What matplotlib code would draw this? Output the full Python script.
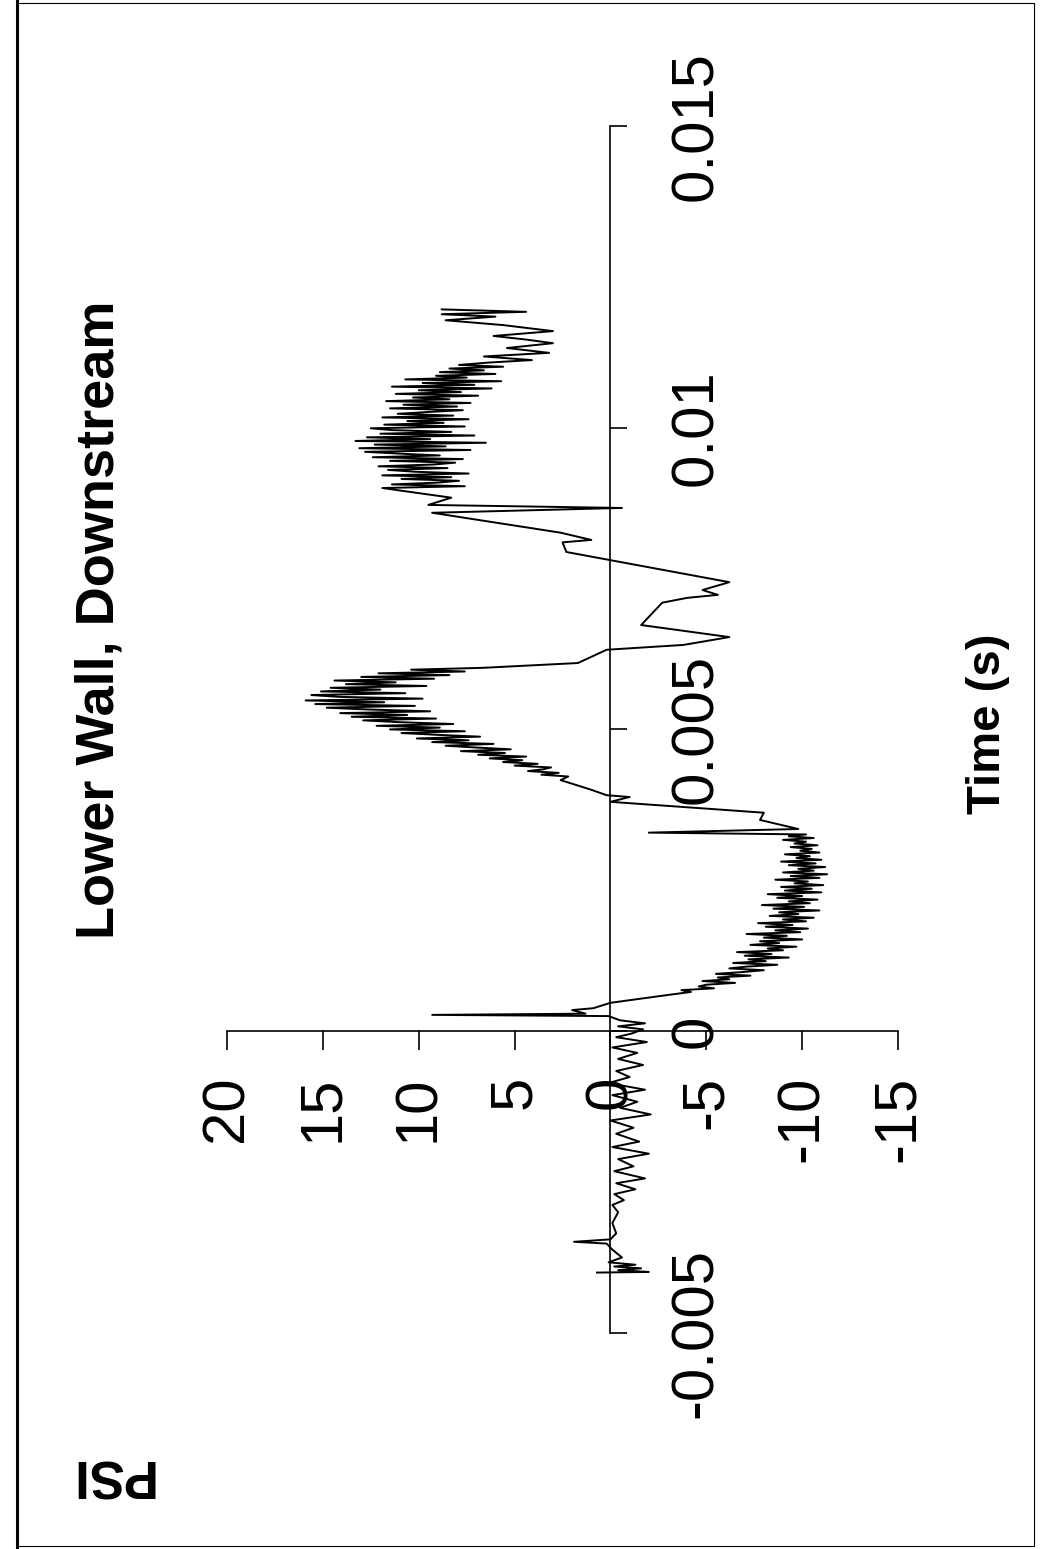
import matplotlib
matplotlib.use("Agg")
from matplotlib import pyplot as plt
from matplotlib import font_manager
from matplotlib.lines import Line2D
from matplotlib.patches import Rectangle

# pressure trace (time in s, pressure in PSI)
t_pre = [-0.00400, -0.00399, -0.00396, -0.00393, -0.00390, -0.00387, -0.00383, -0.00375, -0.00362, -0.00352,
         -0.00349, -0.00345, -0.00335, -0.00318, -0.00300, -0.00288, -0.00280, -0.00270, -0.00262, -0.00252,
         -0.00244, -0.00232, -0.00224, -0.00212, -0.00203, -0.00192, -0.00183, -0.00170, -0.00160, -0.00148,
         -0.00138, -0.00127, -0.00117, -0.00106, -0.00097, -0.00086, -0.00076, -0.00066, -0.00056, -0.00046,
         -0.00036, -0.00027, -0.00018, -0.00010, -0.00004, 0.00003, 0.00008, 0.00013, 0.00018, 0.00025]
p_pre = [0.7, -2.0, -0.4, -1.6, -0.2, -1.3, 0.1, -0.6, -0.1, 0.2,
         1.9, 0.0, -0.3, -0.1, -0.4, -0.1, -0.7, -0.2, -1.3, -0.3,
         -1.8, -0.2, -1.2, -0.4, -2.0, -0.1, -1.5, -0.3, -1.2, 0.0,
         -2.1, -0.5, -1.4, -0.1, -1.8, 0.1, -1.0, -0.3, -1.7, -0.4,
         -1.4, -0.1, -1.9, -0.3, -1.1, -1.7, -0.4, -1.8, -0.5, 0.1]

t_spike = [0.00027, 0.00029, 0.00035, 0.00038, 0.00047, 0.00060]
p_spike = [9.3, 1.3, 2.0, 0.9, 0.0, -3.0]

t_neg = [0.00065, 0.00068, 0.00071, 0.00074, 0.00077, 0.00080, 0.00083, 0.00086, 0.00089, 0.00092,
         0.00095, 0.00098, 0.00101, 0.00104, 0.00107, 0.00110, 0.00113, 0.00116, 0.00119, 0.00122,
         0.00125, 0.00128, 0.00131, 0.00134, 0.00137, 0.00140, 0.00143, 0.00146, 0.00149, 0.00152,
         0.00155, 0.00158, 0.00161, 0.00164, 0.00167, 0.00170, 0.00173, 0.00176, 0.00179, 0.00182,
         0.00185, 0.00188, 0.00191, 0.00194, 0.00197, 0.00200, 0.00203, 0.00206, 0.00209, 0.00212,
         0.00215, 0.00218, 0.00221, 0.00224, 0.00227, 0.00230, 0.00233, 0.00236, 0.00239, 0.00242,
         0.00245, 0.00248, 0.00251, 0.00254, 0.00257, 0.00260, 0.00263, 0.00266, 0.00269, 0.00272,
         0.00275, 0.00278, 0.00281, 0.00284, 0.00287, 0.00290, 0.00293, 0.00296, 0.00299, 0.00302,
         0.00305, 0.00308, 0.00311, 0.00314, 0.00317, 0.00320, 0.00323, 0.00326, 0.00329, 0.00335,
         0.00350, 0.00362, 0.00380, 0.00388, 0.00391]
p_neg = [-4.2, -3.7, -5.4, -4.6, -5.0, -6.5, -4.8, -6.2, -5.6, -7.3,
         -5.5, -6.9, -8.0, -6.2, -7.1, -8.7, -6.4, -8.1, -7.2, -9.3,
         -7.0, -8.4, -6.6, -9.0, -8.2, -9.7, -7.3, -8.8, -7.8, -10.0,
         -8.0, -9.2, -7.1, -9.9, -8.6, -10.3, -8.1, -9.5, -7.7, -10.2,
         -9.0, -10.6, -8.3, -9.8, -8.8, -10.9, -8.5, -10.1, -7.9, -10.4,
         -9.3, -10.8, -8.7, -10.0, -8.2, -11.0, -9.1, -10.5, -8.9, -11.1,
         -9.6, -10.3, -8.6, -10.9, -9.4, -11.3, -9.0, -10.6, -9.8, -11.2,
         -9.3, -10.7, -8.9, -11.0, -9.7, -10.4, -9.1, -10.9, -9.9, -10.5,
         -9.4, -10.8, -9.6, -10.2, -9.0, -10.6, -9.3, -10.2, -2.0, -9.8,
         -7.8, -8.0, 0.0, -1.0, 0.2]

t_pos1 = [0.00400, 0.00416, 0.00422, 0.00425, 0.00428, 0.00431, 0.00434, 0.00437, 0.00440, 0.00443,
          0.00446, 0.00449, 0.00452, 0.00455, 0.00458, 0.00461, 0.00464, 0.00467, 0.00470, 0.00473,
          0.00476, 0.00479, 0.00482, 0.00485, 0.00488, 0.00491, 0.00494, 0.00497, 0.00500, 0.00503,
          0.00506, 0.00509, 0.00512, 0.00515, 0.00518, 0.00521, 0.00524, 0.00527, 0.00530, 0.00533,
          0.00536, 0.00539, 0.00542, 0.00545, 0.00548, 0.00551, 0.00554, 0.00557, 0.00560, 0.00563,
          0.00566, 0.00569, 0.00572, 0.00575, 0.00578, 0.00581, 0.00584, 0.00587, 0.00590, 0.00593,
          0.00596, 0.00599, 0.00602, 0.00610, 0.00632]
p_pos1 = [1.0, 2.6, 2.2, 3.6, 2.7, 4.3, 3.5, 3.1, 5.0, 3.8,
          5.6, 4.6, 6.3, 4.4, 6.9, 5.5, 7.8, 5.2, 7.0, 8.6,
          6.1, 9.3, 7.4, 10.1, 6.8, 9.0, 10.9, 7.6, 11.5, 8.9,
          12.2, 8.2, 11.0, 12.9, 9.1, 13.5, 10.6, 14.1, 9.4, 12.6,
          14.8, 10.2, 15.4, 11.8, 15.9, 9.8, 14.2, 15.6, 10.7, 15.1,
          12.0, 14.6, 9.6, 13.8, 11.2, 14.4, 9.2, 13.0, 8.4, 12.1,
          7.6, 10.4, 6.7, 1.7, 0.2]

t_mid = [0.00640, 0.00653, 0.00673, 0.00710, 0.00718, 0.00723, 0.00731, 0.00744, 0.00794, 0.00810,
         0.00814, 0.00826, 0.00859, 0.00867, 0.00872, 0.00884, 0.00900]
p_mid = [-3.8, -6.2, -1.6, -2.7, -4.0, -5.6, -4.8, -6.2, 2.3, 2.5,
         1.0, 2.6, 9.3, -0.6, 9.5, 8.3, 11.9]

t_pos2 = [0.00903, 0.00906, 0.00909, 0.00912, 0.00915, 0.00918, 0.00921, 0.00924, 0.00927, 0.00930,
          0.00933, 0.00936, 0.00939, 0.00942, 0.00945, 0.00948, 0.00951, 0.00954, 0.00957, 0.00960,
          0.00963, 0.00966, 0.00969, 0.00972, 0.00975, 0.00978, 0.00981, 0.00984, 0.00987, 0.00990,
          0.00993, 0.00996, 0.00999, 0.01002, 0.01005, 0.01008, 0.01011, 0.01014, 0.01017, 0.01020,
          0.01023, 0.01026, 0.01029, 0.01032, 0.01035, 0.01038, 0.01041, 0.01044, 0.01047, 0.01050,
          0.01053, 0.01056, 0.01059, 0.01062, 0.01065, 0.01068, 0.01071, 0.01074, 0.01077, 0.01080,
          0.01083, 0.01086, 0.01089, 0.01092, 0.01095, 0.01098, 0.01101, 0.01104, 0.01108, 0.01112,
          0.01118, 0.01124, 0.01132, 0.01140, 0.01146, 0.01152, 0.01160, 0.01170, 0.01178, 0.01184,
          0.01188, 0.01192, 0.01196]
p_pos2 = [7.6, 11.4, 9.0, 7.9, 10.9, 8.3, 11.9, 7.4, 10.2, 11.6,
          8.5, 12.1, 9.2, 8.1, 11.5, 7.7, 12.4, 8.9, 11.0, 12.8,
          7.3, 13.1, 8.6, 12.3, 6.5, 13.3, 9.4, 12.7, 7.1, 12.0,
          8.3, 11.4, 12.5, 7.6, 11.8, 8.7, 10.6, 7.4, 11.9, 8.2,
          11.1, 9.5, 7.7, 11.5, 8.0, 10.8, 7.3, 11.7, 8.4, 10.3,
          6.9, 11.2, 7.8, 10.0, 6.2, 11.4, 7.1, 9.8, 5.7, 10.7,
          7.5, 9.1, 6.0, 8.9, 6.6, 8.4, 5.6, 7.9, 6.3, 4.1,
          6.6, 3.2, 5.4, 3.0, 4.4, 6.1, 3.0, 5.6, 8.6, 6.0,
          8.8, 4.4, 8.8]

psi_ticks = [20, 15, 10, 5, 0, -5, -10, -15]
psi_labels = ['20', '15', '10', '5', '0', '-5', '-10', '-15']
time_ticks = [-0.005, 0, 0.005, 0.01, 0.015]
time_labels = ['-0.005', '0', '0.005', '0.01', '0.015']


def pick_title_font():
    # narrow bold face looks closest to the scanned title, fall back if missing
    for fam in ['Liberation Sans Narrow', 'Arial Narrow']:
        try:
            font_manager.findfont(font_manager.FontProperties(family=fam, weight='bold'),
                                  fallback_to_default=False)
            return fam, 46
        except Exception:
            pass
    return 'Liberation Sans', 39


def main():
    plt.rcParams['font.family'] = ['Liberation Sans', 'DejaVu Sans']
    plt.rcParams['axes.unicode_minus'] = False

    fig = plt.figure(figsize=(10.40, 15.49), dpi=100)
    # the page is turned on its side: PSI runs left-right (reversed), time runs upward
    ax = fig.add_axes([0.2183, 0.1395, 0.6452, 0.7792])

    time = t_pre + t_spike + t_neg + t_pos1 + t_mid + t_pos2
    psi = p_pre + p_spike + p_neg + p_pos1 + p_mid + p_pos2
    ax.plot(psi, time, color='black', linewidth=1.4)

    ax.set_xlim(20, -15)
    ax.set_ylim(-0.005, 0.015)

    ax.spines['top'].set_visible(False)
    ax.spines['left'].set_visible(False)
    ax.spines['bottom'].set_position(('data', 0))
    ax.spines['right'].set_position(('data', 0))
    ax.spines['bottom'].set_linewidth(1.2)
    ax.spines['right'].set_linewidth(1.2)
    ax.yaxis.set_ticks_position('right')
    ax.xaxis.set_ticks_position('bottom')

    ax.set_xticks(psi_ticks)
    ax.set_xticklabels(psi_labels, rotation=90)
    ax.set_yticks(time_ticks)
    ax.set_yticklabels(time_labels, rotation=90, va='center')
    ax.tick_params(axis='x', direction='out', length=14, width=1.2, pad=18, labelsize=43)
    ax.tick_params(axis='y', direction='out', length=12, width=1.2, pad=30, labelsize=43)
    ax.patch.set_alpha(0)

    title_family, title_size = pick_title_font()
    fig.text(0.096, 0.600, 'Lower Wall, Downstream', rotation=90, ha='center', va='center',
             fontsize=title_size, fontweight='bold', family=[title_family, 'DejaVu Sans'])
    fig.text(0.950, 0.533, 'Time (s)', rotation=90, ha='center', va='center',
             fontsize=34, fontweight='bold')
    fig.text(0.106, 0.049, 'PSI', rotation=180, ha='center', va='center',
             fontsize=38, fontweight='bold')

    # frame of the scanned page
    fig.add_artist(Rectangle((0.016, 0.002), 0.978, 0.996, transform=fig.transFigure,
                             fill=False, edgecolor='black', linewidth=0.8))
    fig.add_artist(Line2D([0.016, 0.016], [0.0, 1.0], transform=fig.transFigure,
                          color='black', linewidth=2.2))

    fig.savefig('out.png', dpi=100, facecolor='white')


if __name__ == '__main__':
    main()
